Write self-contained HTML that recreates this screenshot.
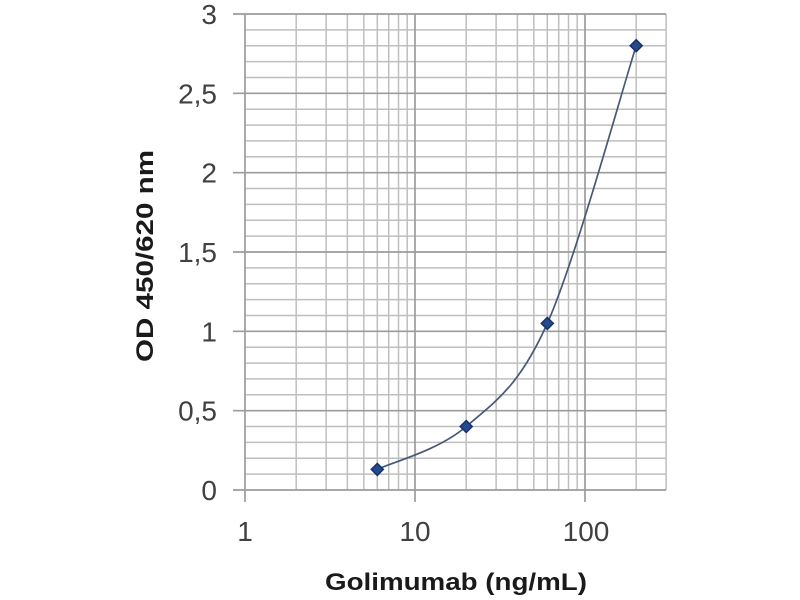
<!DOCTYPE html>
<html>
<head>
<meta charset="utf-8">
<style>
html,body{margin:0;padding:0;background:#fff;}
svg{display:block;}
</style>
</head>
<body>
<svg width="800" height="600" viewBox="0 0 800 600" xmlns="http://www.w3.org/2000/svg">
<rect width="800" height="600" fill="#fff"/>
<!-- minor horizontal grid -->
<g stroke="#bfbfbf" stroke-width="1.5">
<line x1="245" x2="666" y1="474.13" y2="474.13"/>
<line x1="245" x2="666" y1="458.27" y2="458.27"/>
<line x1="245" x2="666" y1="442.4" y2="442.4"/>
<line x1="245" x2="666" y1="426.53" y2="426.53"/>
<line x1="245" x2="666" y1="394.8" y2="394.8"/>
<line x1="245" x2="666" y1="378.93" y2="378.93"/>
<line x1="245" x2="666" y1="363.07" y2="363.07"/>
<line x1="245" x2="666" y1="347.2" y2="347.2"/>
<line x1="245" x2="666" y1="315.47" y2="315.47"/>
<line x1="245" x2="666" y1="299.6" y2="299.6"/>
<line x1="245" x2="666" y1="283.73" y2="283.73"/>
<line x1="245" x2="666" y1="267.87" y2="267.87"/>
<line x1="245" x2="666" y1="236.13" y2="236.13"/>
<line x1="245" x2="666" y1="220.27" y2="220.27"/>
<line x1="245" x2="666" y1="204.4" y2="204.4"/>
<line x1="245" x2="666" y1="188.53" y2="188.53"/>
<line x1="245" x2="666" y1="156.8" y2="156.8"/>
<line x1="245" x2="666" y1="140.93" y2="140.93"/>
<line x1="245" x2="666" y1="125.07" y2="125.07"/>
<line x1="245" x2="666" y1="109.2" y2="109.2"/>
<line x1="245" x2="666" y1="77.47" y2="77.47"/>
<line x1="245" x2="666" y1="61.6" y2="61.6"/>
<line x1="245" x2="666" y1="45.73" y2="45.73"/>
<line x1="245" x2="666" y1="29.87" y2="29.87"/>
</g>
<!-- minor vertical grid -->
<g stroke="#bfbfbf" stroke-width="1.5">
<line y1="14" y2="490" x1="296.2" x2="296.2"/>
<line y1="14" y2="490" x1="326.1" x2="326.1"/>
<line y1="14" y2="490" x1="347.4" x2="347.4"/>
<line y1="14" y2="490" x1="363.8" x2="363.8"/>
<line y1="14" y2="490" x1="377.3" x2="377.3"/>
<line y1="14" y2="490" x1="388.7" x2="388.7"/>
<line y1="14" y2="490" x1="398.5" x2="398.5"/>
<line y1="14" y2="490" x1="407.2" x2="407.2"/>
<line y1="14" y2="490" x1="466.2" x2="466.2"/>
<line y1="14" y2="490" x1="496.1" x2="496.1"/>
<line y1="14" y2="490" x1="517.4" x2="517.4"/>
<line y1="14" y2="490" x1="533.8" x2="533.8"/>
<line y1="14" y2="490" x1="547.3" x2="547.3"/>
<line y1="14" y2="490" x1="558.7" x2="558.7"/>
<line y1="14" y2="490" x1="568.5" x2="568.5"/>
<line y1="14" y2="490" x1="577.2" x2="577.2"/>
<line y1="14" y2="490" x1="636.2" x2="636.2"/>
<line y1="14" y2="490" x1="666.1" x2="666.1"/>
</g>
<!-- major horizontal grid + ticks -->
<g stroke="#9c9c9c" stroke-width="1.7">
<line x1="233" x2="666" y1="490" y2="490"/>
<line x1="233" x2="666" y1="410.67" y2="410.67"/>
<line x1="233" x2="666" y1="331.33" y2="331.33"/>
<line x1="233" x2="666" y1="252" y2="252"/>
<line x1="233" x2="666" y1="172.67" y2="172.67"/>
<line x1="233" x2="666" y1="93.33" y2="93.33"/>
<line x1="233" x2="666" y1="14" y2="14"/>
</g>
<!-- major vertical grid + ticks -->
<g stroke="#9c9c9c" stroke-width="1.7">
<line y1="14" y2="502" x1="245" x2="245"/>
<line y1="14" y2="502" x1="415" x2="415"/>
<line y1="14" y2="502" x1="585" x2="585"/>
</g>
<!-- y tick labels -->
<g font-family="'Liberation Sans', sans-serif" font-size="28" fill="#404040" text-anchor="end">
<text x="217" y="500">0</text>
<text x="217" y="420.7">0,5</text>
<text x="217" y="341.3">1</text>
<text x="217" y="262">1,5</text>
<text x="217" y="182.7">2</text>
<text x="217" y="103.3">2,5</text>
<text x="217" y="24">3</text>
</g>
<!-- x tick labels -->
<g font-family="'Liberation Sans', sans-serif" font-size="28" fill="#404040" text-anchor="middle">
<text x="245" y="541">1</text>
<text x="415" y="541">10</text>
<text x="586" y="541">100</text>
</g>
<!-- axis titles -->
<text x="325" y="590" font-family="'Liberation Sans', sans-serif" font-size="24" font-weight="bold" fill="#1a1a1a" textLength="262" lengthAdjust="spacingAndGlyphs">Golimumab (ng/mL)</text>
<text transform="translate(153,362) rotate(-90)" x="0" y="0" font-family="'Liberation Sans', sans-serif" font-size="24" font-weight="bold" fill="#1a1a1a" textLength="212" lengthAdjust="spacingAndGlyphs">OD 450/620 nm</text>
<!-- curve -->
<path d="M377.3,469.4 C392.1,462.2 437.9,450.8 466.2,426.5 C494.5,402.2 519.0,386.9 547.3,323.4 C575.6,259.9 621.4,92.0 636.2,45.7" fill="none" stroke="#4a5878" stroke-width="1.7"/>
<!-- markers -->
<g fill="#254a8c" stroke="#16306a" stroke-width="1.5">
<polygon points="377.3,463.4 383.3,469.4 377.3,475.4 371.3,469.4"/>
<polygon points="466.2,420.5 472.2,426.5 466.2,432.5 460.2,426.5"/>
<polygon points="547.3,317.4 553.3,323.4 547.3,329.4 541.3,323.4"/>
<polygon points="636.2,39.7 642.2,45.7 636.2,51.7 630.2,45.7"/>
</g>
</svg>
</body>
</html>
